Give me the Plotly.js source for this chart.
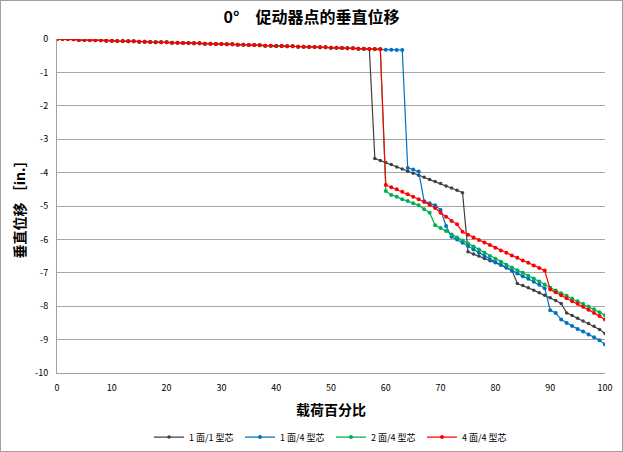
<!DOCTYPE html>
<html>
<head>
<meta charset="utf-8">
<script src="https://cdn.plot.ly/plotly-3.0.1.min.js"></script>
<style>
body{margin:0;padding:0;background:#fff;}
#wrap{position:relative;width:623px;height:452px;}
#chart{width:623px;height:452px;}
#frame{position:absolute;left:0;top:0;width:621px;height:450px;border:1px solid #a0a0a0;pointer-events:none;}
</style>
</head>
<body>
<div id="wrap"><div id="chart"></div><div id="frame"></div></div>
<script>
var loadPct = [];
for (var i = 0; i <= 100; i++) loadPct.push(i);

var series1f1c = [0,0,0,-0.01,-0.03,-0.03,-0.03,-0.04,-0.04,-0.05,-0.05,-0.06,-0.06,-0.07,-0.07,-0.08,-0.08,-0.09,-0.1,-0.1,
 -0.1,-0.11,-0.11,-0.12,-0.12,-0.13,-0.13,-0.14,-0.14,-0.15,-0.15,-0.16,-0.16,-0.17,-0.17,-0.18,-0.18,-0.19,-0.2,-0.2,
 -0.21,-0.21,-0.22,-0.22,-0.23,-0.23,-0.24,-0.24,-0.25,-0.25,-0.26,-0.26,-0.27,-0.28,-0.28,-0.29,-0.29,-0.3,
 -3.58,-3.64,-3.7,-3.76,-3.83,-3.89,-3.96,-4.02,-4.08,-4.14,-4.21,-4.27,-4.33,-4.4,-4.46,-4.53,-4.6,
 -6.37,-6.44,-6.5,-6.57,-6.64,-6.7,-6.77,-6.84,-6.92,-7.32,-7.38,-7.45,-7.52,-7.6,-7.67,-7.75,-7.83,-7.92,
 -8.2,-8.28,-8.36,-8.44,-8.52,-8.6,-8.7,-8.82];

var series1f4c = [0,0,0,-0.01,-0.03,-0.03,-0.03,-0.04,-0.04,-0.05,-0.05,-0.06,-0.06,-0.07,-0.07,-0.08,-0.08,-0.09,-0.1,-0.1,
 -0.1,-0.11,-0.11,-0.12,-0.12,-0.13,-0.13,-0.14,-0.14,-0.15,-0.15,-0.16,-0.16,-0.17,-0.17,-0.18,-0.18,-0.19,-0.2,-0.2,
 -0.21,-0.21,-0.22,-0.22,-0.23,-0.23,-0.24,-0.24,-0.25,-0.25,-0.26,-0.26,-0.27,-0.28,-0.28,-0.29,-0.29,-0.3,
 -0.31,-0.31,-0.32,-0.32,-0.33,-0.33,
 -3.86,-3.91,-3.97,-4.86,-4.92,-4.98,-5.12,-5.6,-5.92,-6.0,-6.1,-6.2,-6.3,-6.4,-6.5,-6.6,-6.68,-6.76,-6.85,-6.94,
 -7.02,-7.1,-7.18,-7.27,-7.36,-7.46,-8.12,-8.2,-8.4,-8.5,-8.59,-8.68,-8.76,-8.85,-8.93,-9.02,-9.15];

var series2f4c = [0,0,0,-0.01,-0.03,-0.03,-0.03,-0.04,-0.04,-0.05,-0.05,-0.06,-0.06,-0.07,-0.07,-0.08,-0.08,-0.09,-0.1,-0.1,
 -0.1,-0.11,-0.11,-0.12,-0.12,-0.13,-0.13,-0.14,-0.14,-0.15,-0.15,-0.16,-0.16,-0.17,-0.17,-0.18,-0.18,-0.19,-0.2,-0.2,
 -0.21,-0.21,-0.22,-0.22,-0.23,-0.23,-0.24,-0.24,-0.25,-0.25,-0.26,-0.26,-0.27,-0.28,-0.28,-0.29,-0.29,-0.3,
 -0.3,-0.31,
 -4.55,-4.67,-4.72,-4.8,-4.85,-4.92,-4.98,-5.1,-5.2,-5.58,-5.66,-5.75,-5.85,-5.94,-6.03,-6.12,-6.21,-6.3,-6.4,-6.5,
 -6.58,-6.67,-6.76,-6.84,-6.92,-7.0,-7.09,-7.17,-7.26,-7.35,-7.45,-7.53,-7.61,-7.69,-7.77,-7.85,-7.93,-8.01,-8.09,-8.18,-8.27];

var series4f4c = [0,0,0,-0.01,-0.03,-0.03,-0.03,-0.04,-0.04,-0.05,-0.05,-0.06,-0.06,-0.07,-0.07,-0.08,-0.08,-0.09,-0.1,-0.1,
 -0.1,-0.11,-0.11,-0.12,-0.12,-0.13,-0.13,-0.14,-0.14,-0.15,-0.15,-0.16,-0.16,-0.17,-0.17,-0.18,-0.18,-0.19,-0.2,-0.2,
 -0.21,-0.21,-0.22,-0.22,-0.23,-0.23,-0.24,-0.24,-0.25,-0.25,-0.26,-0.26,-0.27,-0.28,-0.28,-0.29,-0.29,-0.3,
 -0.3,-0.31,
 -4.37,-4.44,-4.5,-4.57,-4.65,-4.72,-4.8,-4.88,-4.97,-5.06,-5.2,-5.32,-5.45,-5.55,-5.77,-5.86,-5.94,-6.02,-6.09,-6.17,
 -6.25,-6.33,-6.4,-6.48,-6.55,-6.63,-6.7,-6.78,-6.86,-6.93,-7.5,-7.58,-7.67,-7.76,-7.85,-7.93,-8.02,-8.11,-8.2,-8.29,-8.4];

var seriesNames = ['1 面/1 型芯', '1 面/4 型芯', '2 面/4 型芯', '4 面/4 型芯'];
var seriesColors = ['#404040', '#0070C0', '#00B050', '#FF0000'];
var yTickVals = [0,-1,-2,-3,-4,-5,-6,-7,-8,-9,-10];
var yTickText = ['0','-1','-2','-3','-4','-5','-6','-7','-8','-9','-10'];
var xTickVals = [0,10,20,30,40,50,60,70,80,90,100];

var allY = [series1f1c, series1f4c, series2f4c, series4f4c];
var traces = allY.map(function(ys, k){
  return {
    x: loadPct, y: ys, type: 'scatter', mode: 'lines+markers',
    name: seriesNames[k],
    line: {color: seriesColors[k], width: 1.2},
    marker: {color: seriesColors[k], size: k === 0 ? 3.5 : 4, symbol: 'circle'}
  };
});

var fontFam = '"Noto Sans CJK SC", "Noto Sans", sans-serif';
var layout = {
  width: 623, height: 452,
  margin: {l: 57, r: 18, t: 39, b: 79, autoexpand: false},
  paper_bgcolor: '#fff', plot_bgcolor: '#fff',
  font: {family: fontFam, size: 9, color: '#000'},
  title: {text: '0°　促动器点的垂直位移', x: 0.5, xanchor: 'center', yref: 'container', y: 0.962, yanchor: 'middle',
          font: {family: fontFam, size: 16, color: '#000', weight: 'bold'}},
  xaxis: {
    range: [0, 100], tickvals: xTickVals, ticks: '', showgrid: false, zeroline: false,
    showline: true, linecolor: '#a0a0a0', linewidth: 1, automargin: false,
    tickfont: {size: 9}, ticklabelstandoff: 6,
    title: {text: '载荷百分比', font: {family: fontFam, size: 14, weight: 'bold'}, standoff: 12}
  },
  yaxis: {
    range: [-10, 0], tickvals: yTickVals, ticktext: yTickText, ticks: '',
    showgrid: true, gridcolor: '#a6a6a6', gridwidth: 1, zeroline: false,
    showline: true, linecolor: '#a0a0a0', linewidth: 1, automargin: false,
    tickfont: {size: 9}, ticklabelstandoff: 6,
    title: {text: '垂直位移 ［in.］', font: {family: fontFam, size: 14, weight: 'bold'}, standoff: 6}
  },
  legend: {orientation: 'h', x: 0.5, xanchor: 'center', yref: 'container', y: 0.033, yanchor: 'middle',
           font: {size: 9}, itemwidth: 30, entrywidth: 46, traceorder: 'normal'},
  showlegend: true
};

Plotly.newPlot('chart', traces, layout, {displayModeBar: false, staticPlot: true});
</script>
</body>
</html>
